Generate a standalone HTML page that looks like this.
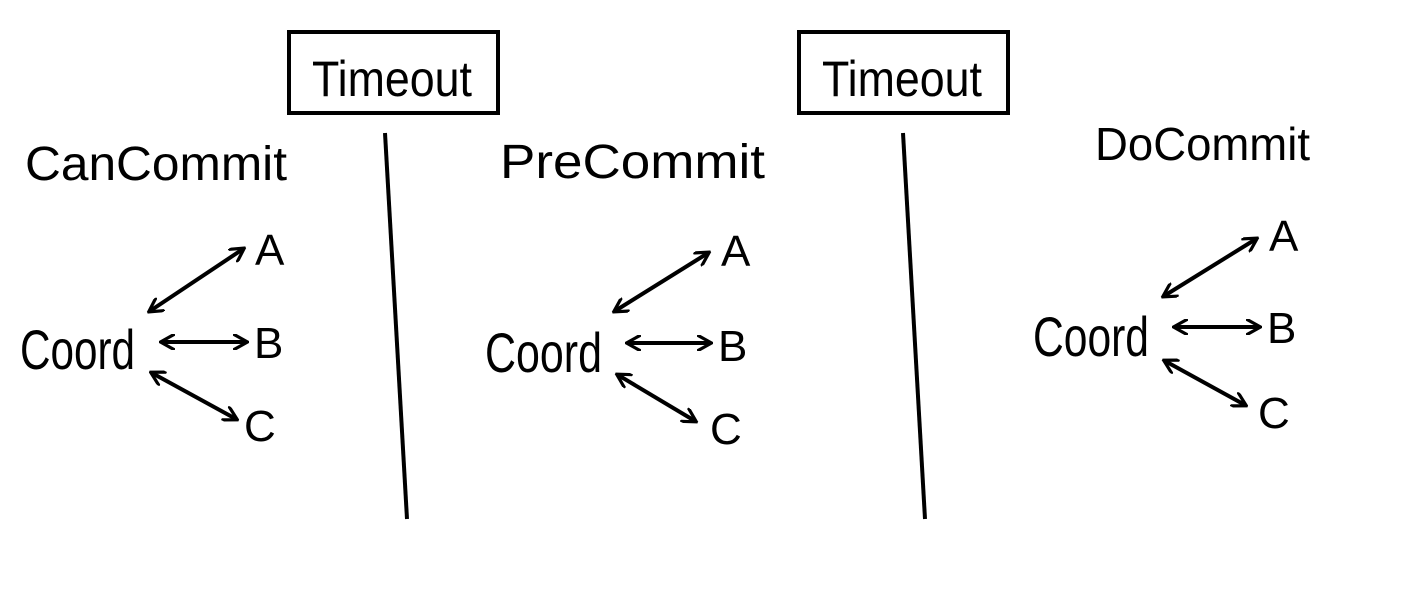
<!DOCTYPE html>
<html><head><meta charset="utf-8"><style>
html,body{margin:0;padding:0;background:#fff;width:1414px;height:612px;overflow:hidden}
svg text{font-family:"Liberation Sans",sans-serif;fill:#000}
</style></head><body>
<svg width="1414" height="612" viewBox="0 0 1414 612" xmlns="http://www.w3.org/2000/svg">
<defs>
<marker id="a" viewBox="0 0 10 10" refX="8" refY="5" markerWidth="4" markerHeight="4" orient="auto-start-reverse">
<path d="M0,0 L9,5 L0,10" fill="none" stroke="#000" stroke-width="2"/>
</marker>
</defs>
<g stroke="#000" fill="none" stroke-width="4">
<rect x="289" y="32" width="209" height="81"/>
<rect x="799" y="32" width="209" height="81"/>
<line x1="385" y1="133" x2="407" y2="519"/>
<line x1="903" y1="133" x2="925" y2="519"/>
</g>
<text x="312" y="96" font-size="50" textLength="160" lengthAdjust="spacingAndGlyphs">Timeout</text>
<text x="822" y="96" font-size="50" textLength="160" lengthAdjust="spacingAndGlyphs">Timeout</text>
<text x="25" y="180" font-size="48" textLength="262" lengthAdjust="spacingAndGlyphs">CanCommit</text>
<text x="500" y="178" font-size="48" textLength="265" lengthAdjust="spacingAndGlyphs">PreCommit</text>
<text x="1095" y="160" font-size="46" textLength="215" lengthAdjust="spacingAndGlyphs">DoCommit</text>
<g stroke="#000" stroke-width="4" marker-start="url(#a)" marker-end="url(#a)">
<line x1="150" y1="311" x2="243" y2="249"/>
<line x1="162" y1="342" x2="246" y2="342"/>
<line x1="152" y1="373" x2="236" y2="419"/>
<line x1="615" y1="311" x2="708" y2="253"/>
<line x1="628" y1="343" x2="710" y2="343"/>
<line x1="618" y1="375" x2="695" y2="421"/>
<line x1="1164" y1="296" x2="1256" y2="239"/>
<line x1="1175" y1="327" x2="1259" y2="327"/>
<line x1="1165" y1="361" x2="1245" y2="405"/>
</g>
<g font-size="56">
<text x="20" y="369" textLength="115" lengthAdjust="spacingAndGlyphs">Coord</text>
<text x="485" y="372" textLength="117" lengthAdjust="spacingAndGlyphs">Coord</text>
<text x="1033" y="356" textLength="116" lengthAdjust="spacingAndGlyphs">Coord</text>
</g>
<g font-size="44">
<text x="255" y="265">A</text><text x="254" y="358">B</text><text x="244" y="441">C</text>
<text x="721" y="266">A</text><text x="718" y="361">B</text><text x="710" y="444">C</text>
<text x="1269" y="251">A</text><text x="1267" y="343">B</text><text x="1258" y="428">C</text>
</g>
</svg>
</body></html>
